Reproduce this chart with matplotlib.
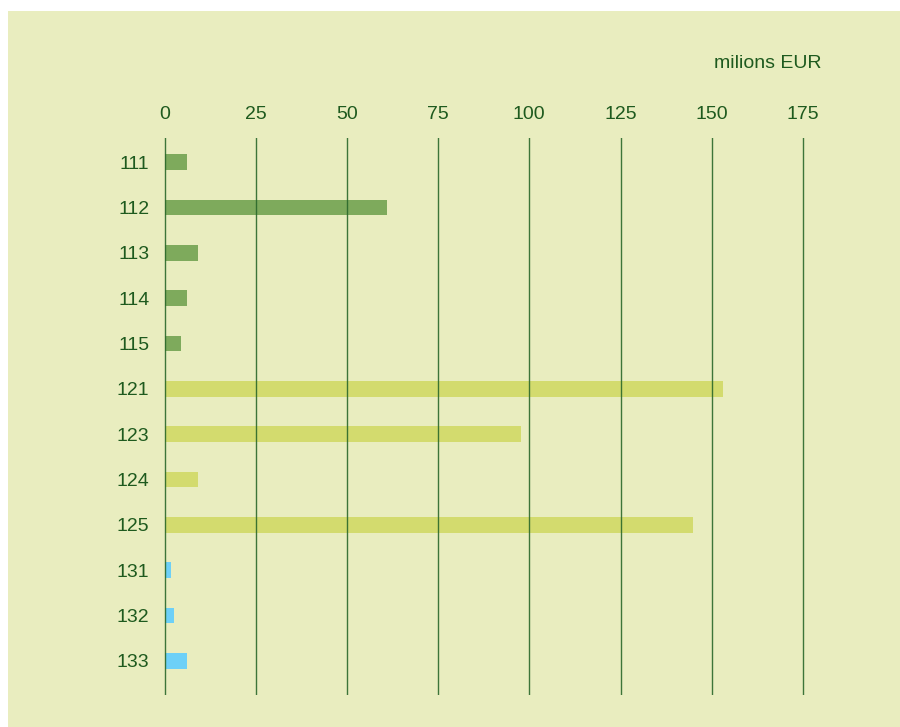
import matplotlib.pyplot as plt
from matplotlib.patches import Rectangle

plt.rcParams['font.family'] = ['Liberation Sans', 'DejaVu Sans']

codes = ['111', '112', '113', '114', '115', '121', '123', '124', '125', '131', '132', '133']
values = [6.2, 61, 9.2, 6.2, 4.5, 153, 97.7, 9.2, 145, 1.8, 2.6, 6.2]
groups = ['a', 'a', 'a', 'a', 'a', 'b', 'b', 'b', 'b', 'c', 'c', 'c']
ticks = [0, 25, 50, 75, 100, 125, 150, 175]

group_colors = {'a': '#7eaa5c', 'b': '#d3db6e', 'c': '#6dd0f7'}
bg = '#e9edbf'
ink = '#1e5a1e'
grid = '#2a682a'

fig = plt.figure(figsize=(9, 7.27), dpi=100)
fig.patch.set_facecolor('white')
fig.patches.append(Rectangle((8 / 900, 0), 892 / 900, 716 / 727,
                             transform=fig.transFigure, facecolor=bg,
                             edgecolor='none', zorder=-10))

# x range -0.3..176 at 3.648 px per unit, zero at x=164.5 px
px = 3.648
x_lo, x_hi = -0.3, 176
ax = fig.add_axes([(164.5 + x_lo * px) / 900, 1 - 695 / 727,
                   ((x_hi - x_lo) * px) / 900, (695 - 138) / 727])
ax.set_facecolor('none')

y = list(range(len(codes)))
ax.barh(y, values, height=0.345, color=[group_colors[g] for g in groups], zorder=2)

for t in ticks:
    ax.axvline(t, color=grid, lw=1.0, alpha=0.9, zorder=3)

ax.set_xlim(x_lo, x_hi)
ax.set_ylim(11.75, -0.53)
ax.set_xticks(ticks)
ax.set_xticklabels([str(t) for t in ticks])
ax.set_yticks(y)
ax.set_yticklabels(codes)
ax.xaxis.tick_top()
ax.tick_params(axis='x', length=0, pad=10.5, labelsize=14, labelcolor=ink)
ax.tick_params(axis='y', length=0, pad=10, labelsize=14, labelcolor=ink)
for s in ax.spines.values():
    s.set_visible(False)

fig.text(822 / 900, 1 - 64 / 727, 'milions EUR', ha='right', va='center',
         fontsize=14, color=ink)

fig.savefig('out.png', dpi=100, facecolor=fig.get_facecolor())
